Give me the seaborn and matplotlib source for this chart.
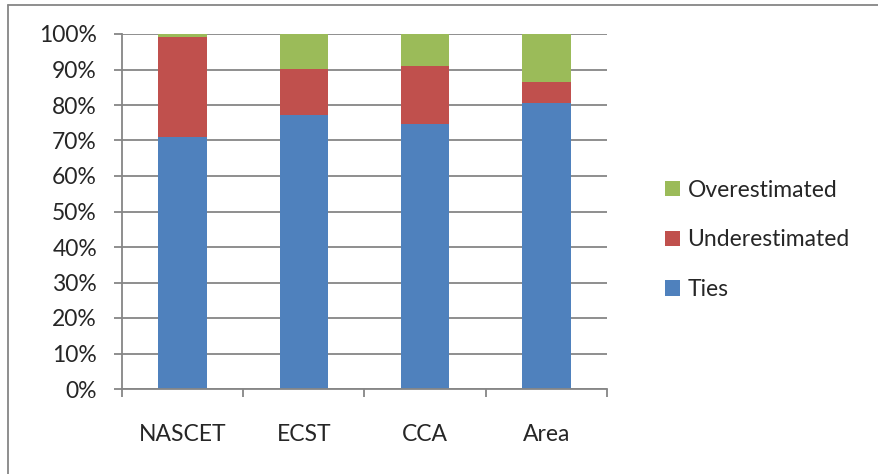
import matplotlib
matplotlib.use("Agg")
import matplotlib.pyplot as plt
from matplotlib.patches import Patch
from matplotlib.lines import Line2D
from matplotlib.ticker import FuncFormatter, MultipleLocator, FixedLocator
import numpy as np
import pandas as pd
import seaborn as sns

categories = ["NASCET", "ECST", "CCA", "Area"]
ties = [70.9, 77.1, 74.6, 80.5]
underestimated = [28.3, 13.1, 16.5, 6.1]
overestimated = [0.8, 9.8, 8.9, 13.4]

series_names = ["Ties", "Underestimated", "Overestimated"]
colors = {"Ties": "#4F81BD", "Underestimated": "#C0504D", "Overestimated": "#9BBB59"}

df = pd.DataFrame({
    "category": categories,
    "Ties": ties,
    "Underestimated": underestimated,
    "Overestimated": overestimated,
})
# cumulative tops for the 100% stack
df["top_Ties"] = df["Ties"]
df["top_Underestimated"] = df["top_Ties"] + df["Underestimated"]
df["top_Overestimated"] = df["top_Underestimated"] + df["Overestimated"]

sns.set_theme(style="white")
plt.rcParams["font.family"] = ["Lato", "DejaVu Sans"]
FS = 16.5

fig = plt.figure(figsize=(8.79, 4.74), dpi=100)
ax = fig.add_axes([122 / 879, 1 - 389 / 474, (607 - 122) / 879, (389 - 34) / 474])

# draw tallest segment first so lower segments overlay it
for name in reversed(series_names):
    sns.barplot(data=df, x="category", y=f"top_{name}", color=colors[name],
                width=0.4, linewidth=0, saturation=1, ax=ax, errorbar=None)

grid_c = "#868686"
ax.set_ylim(0, 100)
ax.set_xlim(-0.5, len(categories) - 0.5)
ax.yaxis.set_major_locator(MultipleLocator(10))
ax.yaxis.set_major_formatter(FuncFormatter(lambda v, p: f"{v:.0f}%"))
ax.grid(axis="y", color=grid_c, linewidth=1.3)
ax.set_axisbelow(True)
ax.set_xlabel("")
ax.set_ylabel("")

for s in ["top", "right"]:
    ax.spines[s].set_visible(False)
for s in ["left", "bottom"]:
    ax.spines[s].set_color(grid_c)
    ax.spines[s].set_linewidth(1.3)

ax.tick_params(axis="y", direction="out", length=6, width=1.3, color=grid_c,
               pad=12, labelsize=FS, left=True)
ax.xaxis.set_major_locator(FixedLocator(np.arange(len(categories))))
ax.set_xticklabels(categories)
ax.tick_params(axis="x", which="major", length=0, pad=25, labelsize=FS)
ax.xaxis.set_minor_locator(FixedLocator(np.arange(len(categories) + 1) - 0.5))
ax.tick_params(axis="x", which="minor", direction="out", length=6, width=1.3,
               color=grid_c, bottom=True)

handles = [Patch(facecolor=colors[n], edgecolor="none") for n in reversed(series_names)]
fig.legend(handles, list(reversed(series_names)), loc="center left",
           bbox_to_anchor=(644 / 879, 1 - 240 / 474), frameon=False,
           fontsize=FS, handlelength=0.65, handleheight=0.65, handletextpad=0.35,
           labelspacing=1.25)

# outer chart border
fig.add_artist(Line2D([8 / 879, 8 / 879], [0, 1 - 4.5 / 474], transform=fig.transFigure,
                      color="#868686", linewidth=1.3))
fig.add_artist(Line2D([8 / 879, 1], [1 - 4.5 / 474, 1 - 4.5 / 474], transform=fig.transFigure,
                      color="#868686", linewidth=1.3))

fig.savefig("out.png", dpi=100)
